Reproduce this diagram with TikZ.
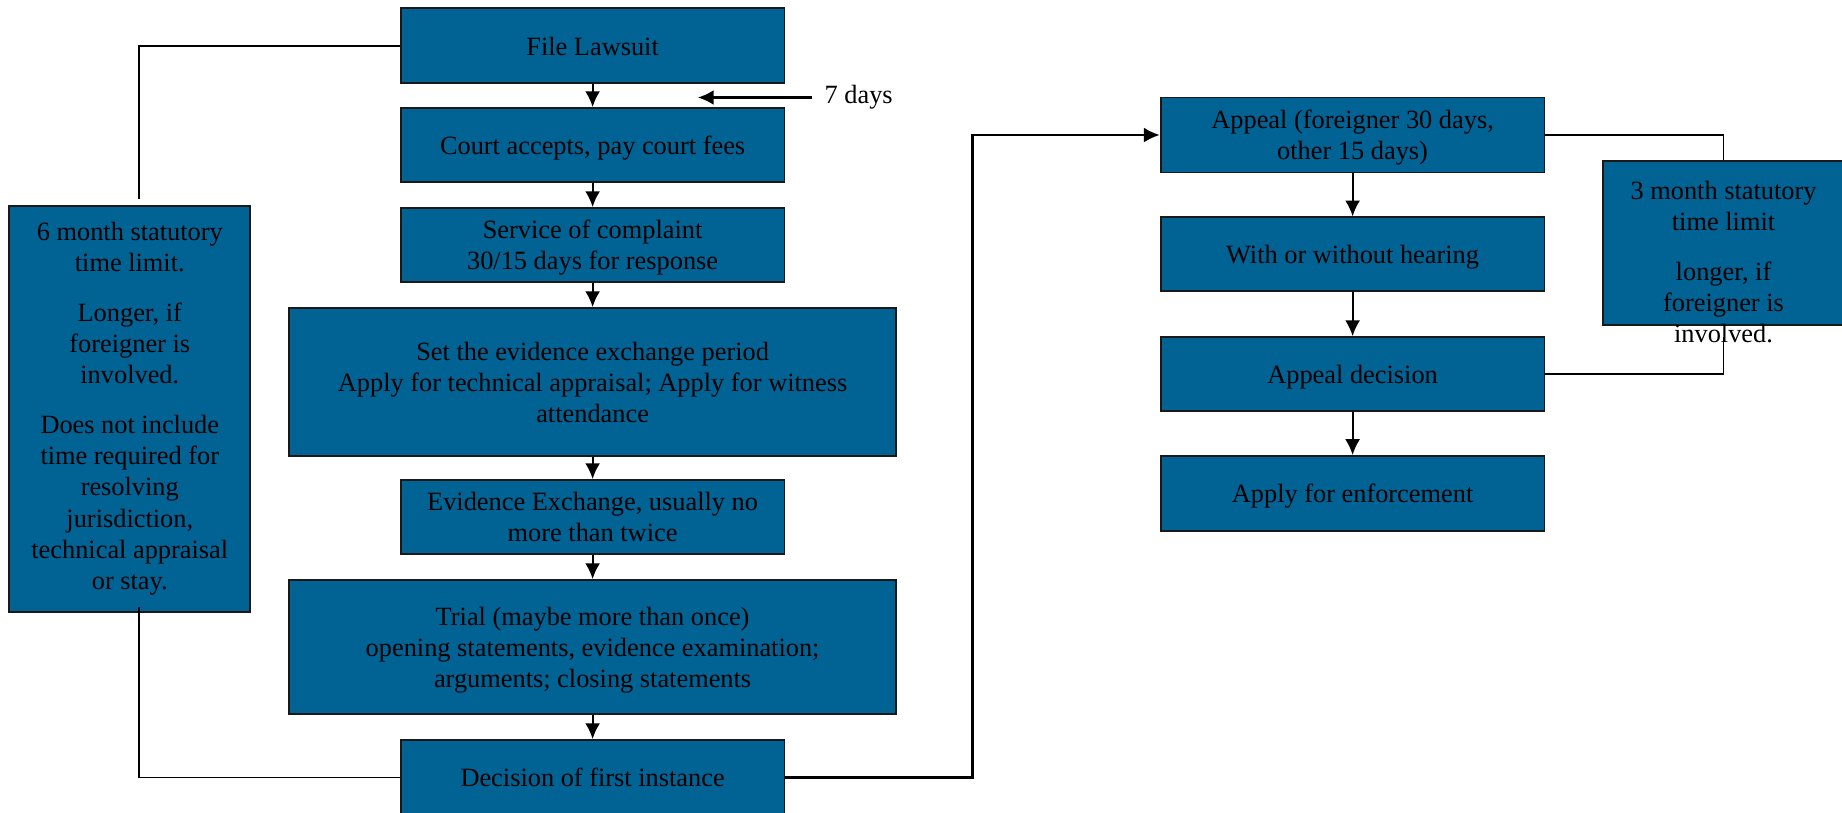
\documentclass[tikz,border=0pt]{standalone}
\usepackage{fontspec}
\setmainfont{Liberation Serif}
\usetikzlibrary{arrows.meta}
\definecolor{stepblue}{RGB}{0,99,148}

\begin{document}
\begin{tikzpicture}[x=0.02cm, y=-0.02cm,
	txt/.style={align=center, inner sep=0pt, font=\fontsize{15}{17.75}\selectfont},
	sidebox/.style={txt, shape=rectangle, fill=stepblue, draw=black!90, line width=1pt},
	box/.style 2 args={sidebox, align=flush center, text width=#1cm, minimum height=#2cm,
		execute at begin node={\rule[-4pt]{0pt}{18.6pt}}, execute at end node={\rule[-4pt]{0pt}{4pt}}},
	wire/.style={line width=1.1pt},
	flow/.style={line width=1.2pt, -{Latex[length=9pt, width=8.5pt]}}]
	\useasboundingbox (0, 0) rectangle (1842, 812);
	% First instance:
	\node[box={7.68}{1.5}] (filelaw) at (592.6, 45.8){File Lawsuit};
	\node[box={7.68}{1.48}] (court) at (592.6, 145){Court accepts, pay court fees};
	\node[box={7.68}{1.48}] (service) at (592.6, 245){Service of complaint\\30/15 days for response};
	\node[box={12.14}{2.96}] (setev) at (592.6, 382){Set the evidence exchange period\\Apply for technical appraisal; Apply for witness\\attendance};
	\node[box={7.68}{1.48}] (evex) at (592.6, 517){Evidence Exchange, usually no\\more than twice};
	\node[box={12.14}{2.68}] (trial) at (592.6, 647){Trial (maybe more than once)\\opening statements, evidence examination;\\arguments; closing statements};
	\node[box={7.68}{1.5}] (decision) at (592.6, 777.5){Decision of first instance};
	\node[sidebox, minimum width=4.82cm, minimum height=8.12cm] (sixmonth) at (129.8, 408.8){6 month statutory\\time limit.\\[10.5pt]Longer, if\\foreigner is\\involved.\\[10.5pt]Does not include\\time required for\\resolving\\jurisdiction,\\technical appraisal\\or stay.};
	\node[txt, inner xsep=0.24cm] (days) at (858.7, 97.5){7 days};
	% Appeal:
	\node[box={7.68}{1.5}] (appeal) at (1352.6, 135){Appeal (foreigner 30 days,\\other 15 days)};
	\node[box={7.68}{1.48}] (hearing) at (1352.6, 254.3){With or without hearing};
	\node[box={7.68}{1.48}] (adecision) at (1352.6, 374.1){Appeal decision};
	\node[box={7.68}{1.5}] (enforce) at (1352.6, 493.4){Apply for enforcement};
	\node[sidebox, minimum width=4.82cm, minimum height=3.28cm] (threemonth) at (1723.5, 243){};
	% Wires:
	\coordinate (daystip) at (697.8, 97.5);
	\coordinate (sixtop) at (138.6, 198.5);
	\coordinate (sixbottom) at (138.6, 607);
	\coordinate (turn) at (972.6, 0);
	\coordinate (threebottom) at (1723.5, 337);
	\foreach \a/\b in {filelaw/court, court/service, service/setev, setev/evex, evex/trial, trial/decision, appeal/hearing, hearing/adecision, adecision/enforce}
		\draw[flow] (\a) -- (\b);
	\draw[flow, line width=1.4pt] (days.west) -- (daystip);
	\draw[wire] (filelaw.west) -| (sixtop);
	\draw[wire] (sixbottom) |- (decision.west);
	\draw[flow, line width=1.4pt] (decision.east) -- (decision.east -| turn) |- (appeal.west);
	\draw[wire] (appeal.east) -| (threemonth.north);
	\draw[wire] (adecision.east) -| (threebottom);
	\node[txt] (threetext) at (1723.5, 262){3 month statutory\\time limit\\[10.5pt]longer, if\\foreigner is\\involved.};
\end{tikzpicture}
\end{document}
